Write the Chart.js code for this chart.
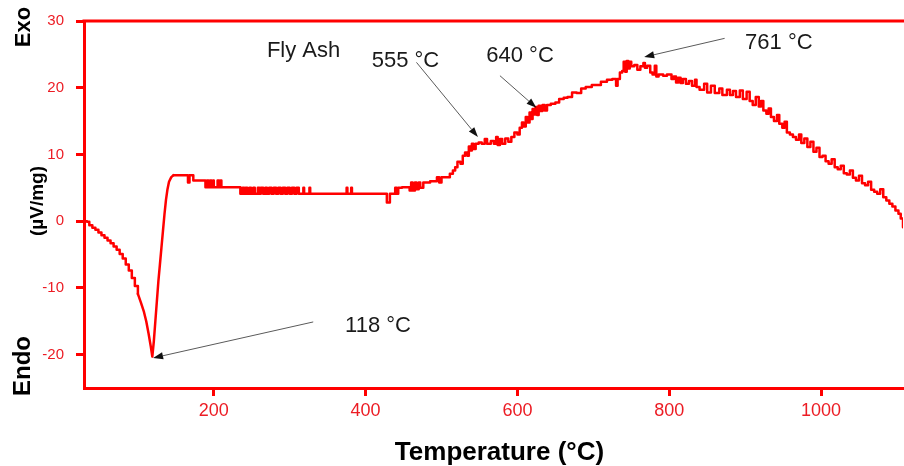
<!DOCTYPE html>
<html>
<head>
<meta charset="utf-8">
<title>DTA - Fly Ash</title>
<script src="https://cdn.jsdelivr.net/npm/chart.js@4.4.1/dist/chart.umd.min.js"></script>
<style>
  html, body { margin: 0; padding: 0; background: #fff; }
  #wrap { width: 904px; height: 466px; position: relative; }
</style>
</head>
<body>
<div id="wrap"><canvas id="dta"></canvas></div>
<script>
// DTA curve: temperature (°C) and heat flow (µV/mg)
const temperature = [
  29, 33, 36, 40, 44, 48, 52, 56, 60, 64,
  68, 72, 76, 80, 84, 88, 92, 96, 100, 104,
  108, 111, 114, 117, 119, 121, 123, 125, 127, 129,
  131, 133, 135, 137, 139, 141, 144, 147, 166, 168,
  173, 189, 191, 193, 195, 197, 199, 200, 205, 207,
  209, 210, 235, 238, 240, 242, 244, 247, 249, 252,
  254, 258, 260, 262, 265, 268, 270, 273, 276, 279,
  282, 285, 288, 291, 294, 297, 300, 303, 306, 309,
  312, 318, 319, 326, 327, 375, 376, 381, 382, 428,
  432, 439, 441, 443, 448, 458, 460, 462, 465, 467,
  470, 472, 476, 485, 494, 497, 500, 505, 511, 515,
  518, 521, 525, 528, 531, 534, 536, 538, 540, 542,
  545, 549, 553, 557, 560, 565, 569, 572, 574, 577,
  580, 584, 588, 592, 596, 600, 603, 606, 608, 611,
  613, 616, 618, 620, 622, 624, 626, 628, 630, 633,
  636, 639, 644, 650, 655, 661, 666, 672, 678, 684,
  690, 698, 705, 710, 718, 725, 730, 732, 735, 738,
  740, 742, 744, 746, 748, 750, 754, 758, 762, 766,
  768, 771, 775, 778, 781, 783, 786, 792, 797, 803,
  806, 809, 812, 815, 818, 822, 826, 830, 834, 836,
  840, 846, 850, 855, 860, 866, 870, 876, 880, 884,
  888, 893, 897, 902, 906, 910, 914, 918, 921, 924,
  928, 931, 934, 938, 942, 945, 949, 952, 955, 959,
  963, 967, 971, 974, 978, 982, 986, 990, 994, 998,
  1002, 1006, 1010, 1014, 1018, 1022, 1026, 1030, 1034, 1038,
  1042, 1046, 1050, 1054, 1058, 1062, 1066, 1070, 1074, 1078,
  1082, 1086, 1090, 1094, 1098, 1102, 1105, 1108
];
const heatFlow = [
  0.0, -0.1, -0.6, -1.0, -1.3, -1.7, -2.1, -2.5, -2.9, -3.3,
  -3.8, -4.3, -4.9, -5.6, -6.5, -7.4, -8.5, -9.7, -10.9, -12.2,
  -13.6, -15.0, -16.8, -18.8, -20.3, -18.0, -15.0, -12.0, -9.0, -6.5,
  -4.0, -1.5, 1.0, 3.2, 4.8, 5.9, 6.6, 6.9, 5.8, 6.9,
  6.1, 5.1, 6.1, 5.1, 6.1, 5.1, 6.1, 5.1, 6.1, 5.1,
  6.1, 5.1, 4.1, 5.0, 4.1, 5.0, 4.1, 5.0, 4.1, 5.0,
  4.1, 5.0, 4.1, 5.0, 4.1, 5.0, 4.1, 5.0, 4.1, 5.0,
  4.1, 5.0, 4.1, 5.0, 4.1, 5.0, 4.1, 5.0, 4.1, 5.0,
  4.1, 5.0, 4.1, 5.0, 4.1, 5.0, 4.1, 5.0, 4.1, 2.8,
  4.1, 5.0, 4.1, 5.0, 5.1, 4.6, 5.8, 4.6, 5.8, 4.8,
  5.8, 5.0, 5.8, 6.0, 6.6, 5.8, 6.6, 6.6, 7.1, 7.6,
  8.1, 8.9, 8.6, 9.8, 10.3, 9.8, 11.2, 10.6, 11.6, 10.8,
  11.6, 11.8, 11.6, 12.3, 11.6, 12.0, 11.6, 12.6, 11.4, 12.3,
  11.6, 12.4, 11.9, 12.6, 13.3, 13.0, 14.0, 14.8, 14.2, 15.6,
  14.8, 16.3, 15.3, 16.8, 16.0, 17.1, 15.9, 17.3, 16.5, 17.4,
  16.6, 17.4, 17.6, 17.8, 18.3, 18.5, 18.6, 19.3, 19.2, 19.9,
  20.1, 20.4, 20.4, 20.9, 21.2, 21.3, 20.3, 21.3, 22.3, 22.5,
  23.9, 22.4, 24.0, 22.9, 23.9, 23.2, 23.4, 22.7, 23.2, 23.7,
  23.0, 23.3, 22.3, 22.0, 23.3, 21.7, 22.0, 21.8, 22.0, 21.3,
  21.7, 20.8, 21.5, 20.7, 21.3, 20.6, 21.0, 20.3, 21.2, 20.1,
  19.7, 20.6, 19.3, 20.3, 19.2, 19.9, 18.9, 19.7, 18.9, 19.5,
  18.6, 19.6, 18.3, 19.4, 18.0, 17.4, 18.6, 17.2, 18.0, 16.6,
  16.1, 16.9, 15.6, 15.0, 15.9, 14.6, 14.0, 14.9, 13.3, 13.0,
  12.6, 12.2, 13.0, 11.7, 12.4, 11.1, 11.9, 10.4, 11.0, 9.6,
  9.8, 9.0, 8.6, 9.3, 8.1, 7.8, 8.3, 7.2, 7.0, 7.6,
  6.5, 6.1, 6.8, 5.7, 5.4, 5.9, 4.7, 4.4, 4.1, 4.8,
  3.6, 3.1, 2.6, 2.2, 1.6, 1.1, 0.4, -0.9
];
const xTicks = [200, 400, 600, 800, 1000];
const yTicks = [-20, -10, 0, 10, 20, 30];

// peak notes: label, where the text starts, arrow tail -> arrow tip (data units)
const notes = [
  { text: 'Fly Ash', at: [270, 24.6] },
  { text: '555 °C', at: [408, 23.1], from: [467, 23.8], to: [548, 12.6] },
  { text: '640 °C', at: [559, 23.9], from: [577, 21.8], to: [625, 17.0] },
  { text: '761 °C', at: [900, 25.8], from: [873, 27.4], to: [767, 24.6] },
  { text: '118 °C', at: [373, -16.6], from: [331, -15.1], to: [120, -20.5] }
];

const RED = '#ff0000';
const TICK_RED = '#ec1c24';
const FONT = '"Liberation Sans", Arial, Helvetica, sans-serif';

// the sharp endotherm is drawn smooth, the rest as the logger's steps
const points = temperature.map((t, i) => ({ x: t, y: heatFlow[i] }));
const smoothFrom = 100, smoothTo = 147;
const steppedPts = points.map(p => (p.x > smoothFrom && p.x < smoothTo) ? { x: p.x, y: null } : p);
const smoothPts = points.filter(p => p.x >= smoothFrom && p.x <= smoothTo);

const overlay = {
  id: 'overlay',
  afterDraw(chart) {
    const { ctx, chartArea } = chart;
    const sx = chart.scales.x, sy = chart.scales.y;
    ctx.save();

    // top frame line
    ctx.strokeStyle = RED;
    ctx.lineWidth = 3;
    ctx.beginPath();
    ctx.moveTo(chartArea.left - 1.5, chartArea.top);
    ctx.lineTo(chartArea.right + 1, chartArea.top);
    ctx.stroke();

    // arrows
    notes.forEach(n => {
      if (!n.from) return;
      const x1 = sx.getPixelForValue(n.from[0]), y1 = sy.getPixelForValue(n.from[1]);
      const x2 = sx.getPixelForValue(n.to[0]), y2 = sy.getPixelForValue(n.to[1]);
      const ang = Math.atan2(y2 - y1, x2 - x1);
      const len = 10, half = 3.5;
      ctx.strokeStyle = '#5a5a5a';
      ctx.lineWidth = 1;
      ctx.beginPath();
      ctx.moveTo(x1, y1);
      ctx.lineTo(x2 - Math.cos(ang) * len, y2 - Math.sin(ang) * len);
      ctx.stroke();
      ctx.fillStyle = '#111';
      ctx.beginPath();
      ctx.moveTo(x2, y2);
      ctx.lineTo(x2 - Math.cos(ang) * len - Math.sin(ang) * half, y2 - Math.sin(ang) * len + Math.cos(ang) * half);
      ctx.lineTo(x2 - Math.cos(ang) * len + Math.sin(ang) * half, y2 - Math.sin(ang) * len - Math.cos(ang) * half);
      ctx.closePath();
      ctx.fill();
    });

    // note labels
    ctx.fillStyle = '#1a1a1a';
    ctx.font = '22px ' + FONT;
    ctx.textAlign = 'left';
    ctx.textBaseline = 'alphabetic';
    notes.forEach(n => {
      ctx.fillText(n.text, sx.getPixelForValue(n.at[0]), sy.getPixelForValue(n.at[1]));
    });

    // axis titles
    ctx.fillStyle = '#000';
    ctx.font = 'bold 26px ' + FONT;
    ctx.textAlign = 'center';
    ctx.fillText('Temperature (°C)', (chartArea.left + chartArea.right) / 2 + 6, 460);

    const side = [
      { text: 'Exo', x: 30, y: 27, font: 'bold 22px ' },
      { text: '(µV/mg)', x: 43, y: 201, font: 'bold 19px ' },
      { text: 'Endo', x: 30, y: 366, font: 'bold 24px ' }
    ];
    side.forEach(s => {
      ctx.save();
      ctx.translate(s.x, s.y);
      ctx.rotate(-Math.PI / 2);
      ctx.font = s.font + FONT;
      ctx.fillText(s.text, 0, 0);
      ctx.restore();
    });

    ctx.restore();
  }
};

const lineStyle = {
  borderColor: RED, borderWidth: 2.5, borderJoinStyle: 'round', borderCapStyle: 'round',
  pointRadius: 0, fill: false, spanGaps: false
};

new Chart(document.getElementById('dta'), {
  type: 'line',
  data: {
    datasets: [
      Object.assign({ data: steppedPts, stepped: true }, lineStyle),
      Object.assign({ data: smoothPts }, lineStyle)
    ]
  },
  options: {
    responsive: true,
    maintainAspectRatio: false,
    animation: false,
    layout: { padding: { left: 0, right: 1, top: 20, bottom: 0 } },
    plugins: { legend: { display: false }, tooltip: { enabled: false } },
    scales: {
      x: {
        type: 'linear',
        min: 29,
        max: 1108,
        afterFit: s => { s.height = 78; },
        afterBuildTicks: s => { s.ticks = xTicks.map(v => ({ value: v })); },
        border: { display: true, color: RED, width: 3 },
        grid: { drawOnChartArea: false, drawTicks: true, tickLength: 8, tickWidth: 3, tickColor: RED },
        ticks: { color: TICK_RED, font: { family: FONT, size: 18 }, padding: 4, maxRotation: 0, callback: v => String(v) }
      },
      y: {
        min: -25,
        max: 30,
        afterFit: s => { s.width = 84; },
        afterBuildTicks: s => { s.ticks = yTicks.map(v => ({ value: v })); },
        border: { display: true, color: RED, width: 3 },
        grid: { drawOnChartArea: false, drawTicks: true, tickLength: 8, tickWidth: 3, tickColor: RED },
        ticks: { color: TICK_RED, font: { family: FONT, size: 15 }, padding: 12, callback: v => String(v) }
      }
    }
  },
  plugins: [overlay]
});
</script>
</body>
</html>
